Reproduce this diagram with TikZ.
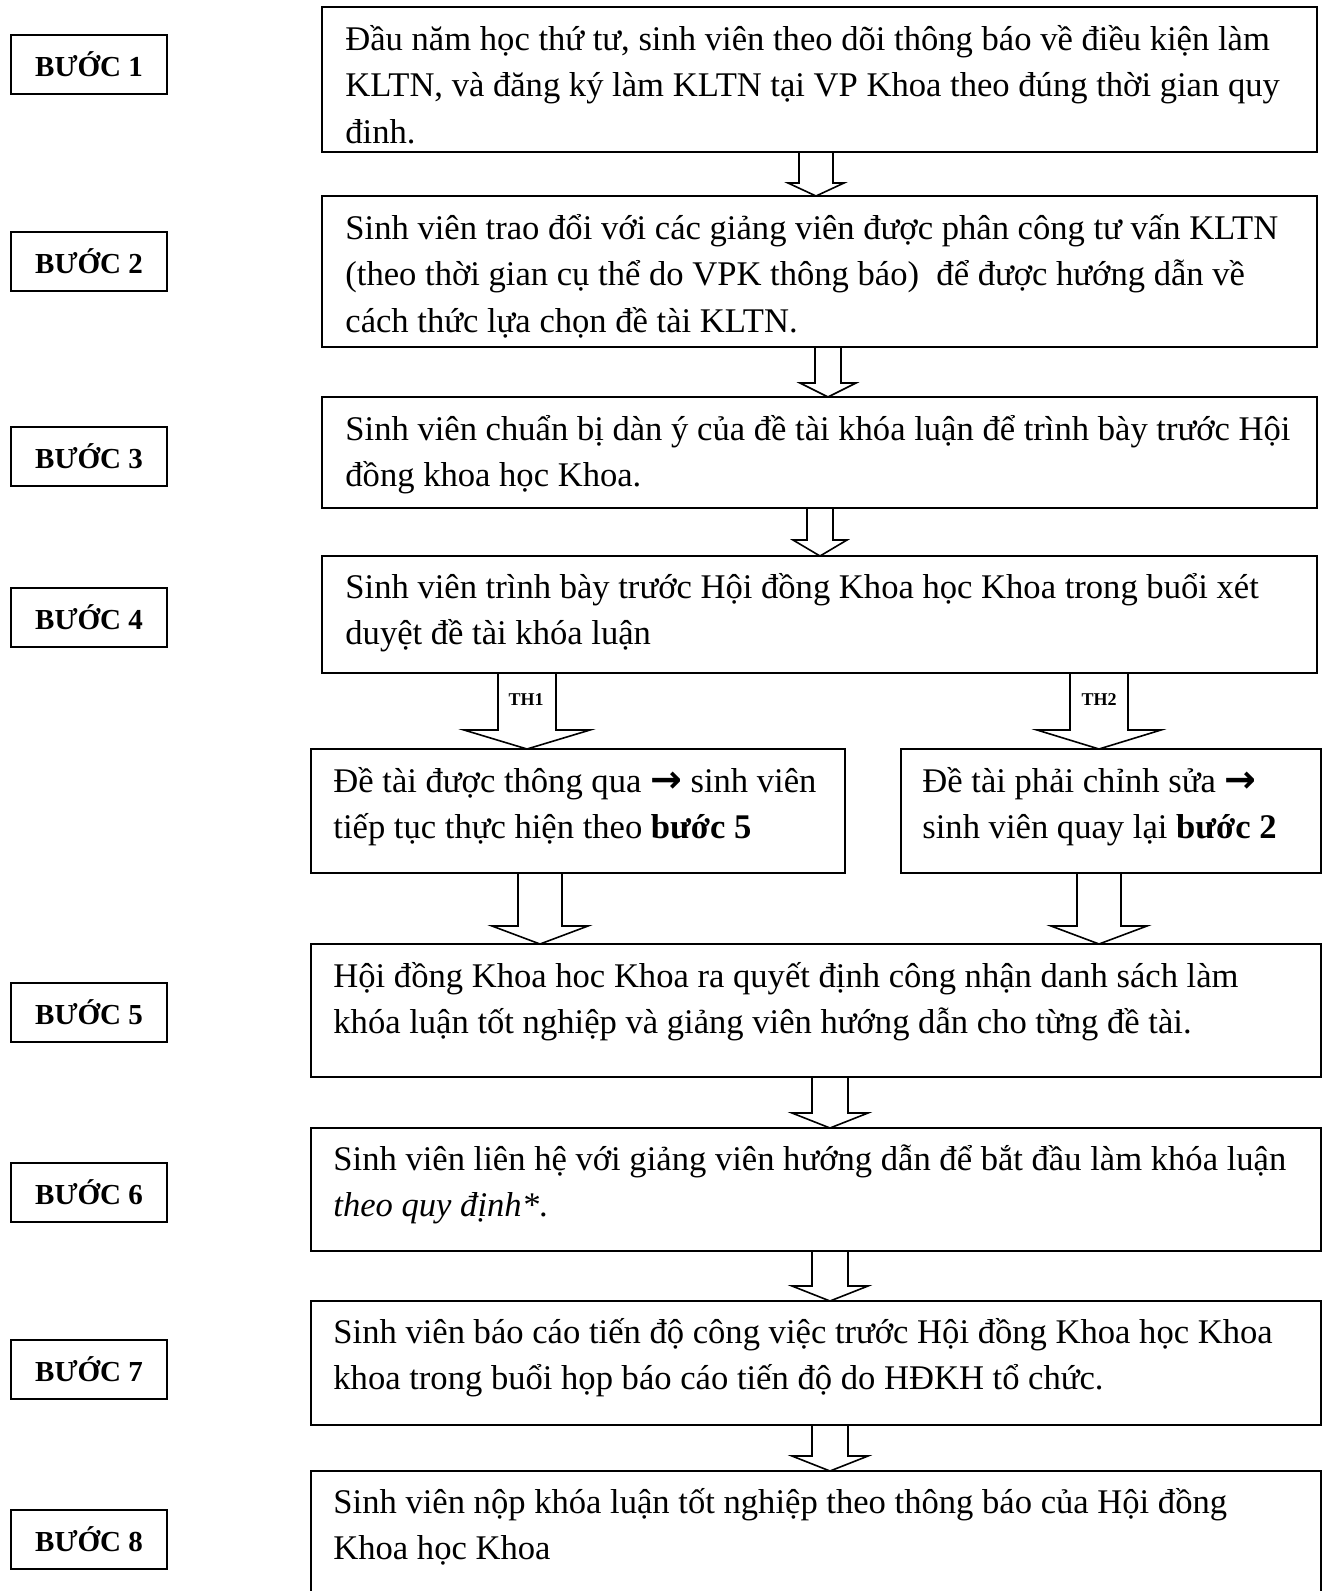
\documentclass[tikz,border=0pt]{standalone}
\usepackage{fontspec}
\setmainfont{Liberation Serif}
\newfontfamily\arrowfont{DejaVu Sans}
\usetikzlibrary{calc}

\tikzset{
  stepbox/.style={draw, line width=1pt, minimum width=78pt, minimum height=29.5pt,
    inner sep=0pt, font=\fontsize{14.5}{16}\selectfont\bfseries},
  box/.style={draw, line width=1pt, anchor=north west, inner sep=0pt, outer sep=0pt},
  txt/.style={anchor=base west, inner sep=0pt, font=\fontsize{17.3}{23.3}\selectfont},
  arr/.style={draw, line width=0.8pt},
  thlabel/.style={inner sep=0pt, font=\fontsize{9}{10}\selectfont\bfseries}
}

\newcommand{\steptext}[1]{\parbox[t]{520pt}{#1}}
\newcommand{\thenarrow}{{\arrowfont\bfseries\fontsize{19}{20}\selectfont →}}

% block arrow: from, to, x, half shaft, half head, head length
\newcommand{\blockarrow}[6]{%
  \draw[arr] (#3-#4,0 |- #1.south)
    -- ($(#3-#4,0 |- #2.north)+(0,-#6)$) -- ++(#4-#5,0)
    -- (#3,0 |- #2.north) -- ++(#5,-#6) -- ++(#4-#5,0)
    -- (#3+#4,0 |- #1.south);}

\begin{document}
\begin{tikzpicture}[x=0.5pt,y=-0.5pt]
  \useasboundingbox (0,0) rectangle (1322,1591);

  % steps on the left
  \node[stepbox] (s1) at (89,64) {BƯỚC 1};
  \node[stepbox] (s2) at (89,261.5) {BƯỚC 2};
  \node[stepbox] (s3) at (89,456.5) {BƯỚC 3};
  \node[stepbox] (s4) at (89,617.5) {BƯỚC 4};
  \node[stepbox] (s5) at (89,1012) {BƯỚC 5};
  \node[stepbox] (s6) at (89,1192.5) {BƯỚC 6};
  \node[stepbox] (s7) at (89,1369.5) {BƯỚC 7};
  \node[stepbox] (s8) at (89,1539) {BƯỚC 8};

  % boxes
  \node[box, minimum width=497.5pt, minimum height=72.5pt] (b1) at (322,7) {};
  \node[txt] (t1) at ($(b1.north west)+(23,43)$) {\steptext{Đầu năm học thứ tư, sinh viên theo dõi thông báo về điều kiện làm\\
    KLTN, và đăng ký làm KLTN tại VP Khoa theo đúng thời gian quy\\
    đinh.}};

  \node[box, minimum width=497.5pt, minimum height=75.5pt] (b2) at (322,196) {};
  \node[txt] (t2) at ($(b2.north west)+(23,43)$) {\steptext{Sinh viên trao đổi với các giảng viên được phân công tư vấn KLTN\\
    (theo thời gian cụ thể do VPK thông báo) \ để được hướng dẫn về\\
    cách thức lựa chọn đề tài KLTN.}};

  \node[box, minimum width=497.5pt, minimum height=55.5pt] (b3) at (322,397) {};
  \node[txt] (t3) at ($(b3.north west)+(23,43)$) {\steptext{Sinh viên chuẩn bị dàn ý của đề tài khóa luận để trình bày trước Hội\\
    đồng khoa học Khoa.}};

  \node[box, minimum width=497.5pt, minimum height=58.5pt] (b4) at (322,556) {};
  \node[txt] (t4) at ($(b4.north west)+(23,42)$) {\steptext{Sinh viên trình bày trước Hội đồng Khoa học Khoa trong buổi xét\\
    duyệt đề tài khóa luận}};

  % two cases
  \node[box, minimum width=267pt, minimum height=62pt] (c1) at (311,749) {};
  \node[txt] (tc1) at ($(c1.north west)+(22,43)$) {\steptext{Đề tài được thông qua \thenarrow{} sinh viên\\
    tiếp tục thực hiện theo \textbf{bước 5}}};

  \node[box, minimum width=210pt, minimum height=62pt] (c2) at (901,749) {};
  \node[txt] (tc2) at ($(c2.north west)+(21,43)$) {\steptext{Đề tài phải chỉnh sửa \thenarrow\\
    sinh viên quay lại \textbf{bước 2}}};

  \node[box, minimum width=505pt, minimum height=66.5pt] (b5) at (311,944) {};
  \node[txt] (t5) at ($(b5.north west)+(22,43)$) {\steptext{Hội đồng Khoa hoc Khoa ra quyết định công nhận danh sách làm\\
    khóa luận tốt nghiệp và giảng viên hướng dẫn cho từng đề tài.}};

  \node[box, minimum width=505pt, minimum height=61.5pt] (b6) at (311,1128) {};
  \node[txt] (t6) at ($(b6.north west)+(22,42)$) {\steptext{Sinh viên liên hệ với giảng viên hướng dẫn để bắt đầu làm khóa luận\\
    \textit{theo quy định*}.}};

  \node[box, minimum width=505pt, minimum height=62pt] (b7) at (311,1301) {};
  \node[txt] (t7) at ($(b7.north west)+(22,42)$) {\steptext{Sinh viên báo cáo tiến độ công việc trước Hội đồng Khoa học Khoa\\
    khoa trong buổi họp báo cáo tiến độ do HĐKH tổ chức.}};

  \node[box, minimum width=505pt, minimum height=70pt] (b8) at (311,1471) {};
  \node[txt] (t8) at ($(b8.north west)+(22,42)$) {\steptext{Sinh viên nộp khóa luận tốt nghiệp theo thông báo của Hội đồng\\
    Khoa học Khoa}};

  % arrows
  \blockarrow{b1}{b2}{816}{17}{28}{13}
  \blockarrow{b2}{b3}{828}{13}{28}{14}
  \blockarrow{b3}{b4}{820}{13}{27}{16}
  \blockarrow{b4}{c1}{527}{29}{63}{19}
  \blockarrow{b4}{c2}{1099}{29}{62}{19}
  \blockarrow{c1}{b5}{540}{22}{48}{18}
  \blockarrow{c2}{b5}{1099}{22}{48}{18}
  \blockarrow{b5}{b6}{830}{18}{38}{15}
  \blockarrow{b6}{b7}{830}{18}{38}{15}
  \blockarrow{b7}{b8}{830}{18}{38}{15}

  \node[thlabel] (l1) at (526,700) {TH1};
  \node[thlabel] (l2) at (1099,700) {TH2};
\end{tikzpicture}
\end{document}
